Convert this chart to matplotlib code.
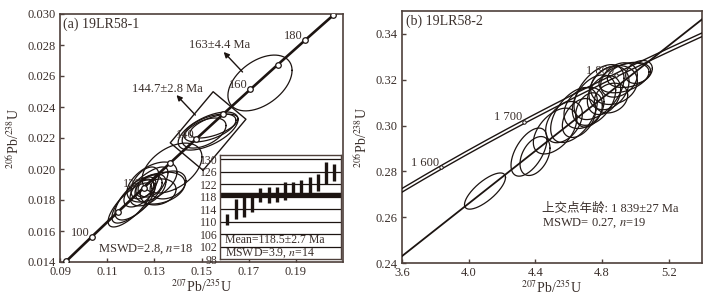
import numpy as np
import matplotlib
matplotlib.use("Agg")
import matplotlib.pyplot as plt

plt.rcParams['font.family'] = ['Liberation Serif', 'Noto Sans CJK SC']
plt.rcParams['mathtext.fontset'] = 'stix'

# ---------------- data ----------------
L235 = 9.8485e-10
L238 = 1.55125e-10

# panel (a): ellipses  x=207/235, y=206/238, half-extents, rho
a_x   = [0.1239, 0.1375, 0.1324, 0.1273, 0.1239, 0.1282, 0.1260, 0.1218, 0.1316, 0.1358, 0.1197, 0.1290, 0.1260,
         0.1528, 0.1536, 0.1511, 0.1553, 0.1748]
a_y   = [0.01832, 0.02006, 0.01877, 0.01865, 0.01852, 0.01890, 0.01910, 0.01800, 0.01852, 0.01897, 0.01768, 0.01916, 0.01877,
         0.02245, 0.02265, 0.02232, 0.02277, 0.02555]
a_dx  = [0.0119, 0.0127, 0.0106, 0.0076, 0.0068, 0.0051, 0.0059, 0.0085, 0.0076, 0.0076, 0.0093, 0.0106, 0.0038,
         0.0127, 0.0110, 0.0093, 0.0102, 0.0136]
a_dy  = [0.00181, 0.00161, 0.00103, 0.00103, 0.00097, 0.00071, 0.00103, 0.00129, 0.00084, 0.00090, 0.00142, 0.00129, 0.00058,
         0.00123, 0.00090, 0.00097, 0.00077, 0.00180]
a_rho = [0.8, 0.45, 0.3, 0.5, 0.55, 0.3, 0.5, 0.65, 0.2, 0.3, 0.75, 0.5, 0.3,
         0.6, 0.55, 0.5, 0.6, 0.45]
a_box_group = [13, 14, 15, 16]          # ellipses enclosed by the 144.7 Ma box
a_marker_ages = [90, 100, 110, 120, 130, 140, 150, 160, 170, 180, 190]
a_label_ages = [100, 120, 140, 160, 180]

# inset weighted mean
w_vals = [110.6, 114.1, 115.0, 116.0, 118.4, 118.5, 118.7, 119.8, 120.6, 121.2, 121.6, 122.6, 125.4, 125.6]
w_errs = [1.7, 3.2, 3.7, 2.8, 2.2, 2.5, 2.5, 2.8, 2.2, 2.2, 2.6, 2.7, 3.5, 2.7]
w_mean = 118.5

# panel (b)
b_x   = [4.098, 4.362, 4.398, 4.518, 4.572, 4.632, 4.692, 4.752, 4.782, 4.812, 4.842, 4.872, 4.902, 4.932, 4.962,
         4.722, 4.854, 4.662, 5.022]
b_y   = [0.2714, 0.2884, 0.2867, 0.2976, 0.3015, 0.3046, 0.3077, 0.3111, 0.3146, 0.3133, 0.3164, 0.3177, 0.3199, 0.3208,
         0.3221, 0.3068, 0.3120, 0.3033, 0.3234]
b_dx  = [0.123, 0.108, 0.090, 0.130, 0.110, 0.140, 0.120, 0.130, 0.150, 0.100, 0.120, 0.140, 0.110, 0.150, 0.130,
         0.080, 0.100, 0.100, 0.080]
b_dy  = [0.0079, 0.0105, 0.0085, 0.0100, 0.0090, 0.0120, 0.0090, 0.0110, 0.0120, 0.0085, 0.0095, 0.0085, 0.0075, 0.0065,
         0.0055, 0.0075, 0.0065, 0.0085, 0.0050]
b_rho = [0.75, 0.55, 0.4, 0.5, 0.4, 0.5, 0.3, 0.4, 0.5, 0.3, 0.3, 0.2, 0.3, 0.4, 0.3, 0.3, 0.2, 0.4, 0.3]
b_label_ages = [1600, 1700, 1800]
b_upper_age = 1839
b_disc_x0, b_disc_y0 = 3.6, 0.243     # lower end of discordia

INK = '#1c1411'
FRAME = '#4e403b'
TXT = '#3a2f2b'


def conc(t_ma):
    t = np.asarray(t_ma) * 1e6
    return np.exp(L235 * t) - 1, np.exp(L238 * t) - 1


def ellipse(x, y, dx, dy, r, n=200):
    th = np.linspace(0, 2 * np.pi, n)
    return x + dx * np.cos(th), y + dy * (r * np.cos(th) + np.sqrt(1 - r * r) * np.sin(th))


def style(ax):
    for s in ax.spines.values():
        s.set_color(FRAME)
        s.set_linewidth(1.2)
    ax.tick_params(direction='in', length=3, width=1, color=FRAME, labelsize=9, colors=TXT,
                   top=False, right=False, pad=3)


fig = plt.figure(figsize=(7.12, 2.97), dpi=100)

# ---------------- panel (a) ----------------
ax = fig.add_axes([60 / 712, 1 - 262 / 297, (343 - 60) / 712, (262 - 14) / 297])
ax.set_xlim(0.09, 0.21)
ax.set_ylim(0.014, 0.030)
style(ax)
ax.set_xticks([0.09, 0.11, 0.13, 0.15, 0.17, 0.19])
ax.set_xticklabels(['0.09', '0.11', '0.13', '0.15', '0.17', '0.19'])
ax.set_yticks(np.arange(0.014, 0.0301, 0.002))
ax.set_yticklabels([f'{v:.3f}' for v in np.arange(0.014, 0.0301, 0.002)])

tt = np.linspace(85, 195, 400)
cx, cy = conc(tt)
ax.plot(cx, cy, color=INK, lw=1.9, zorder=3)
for i in range(len(a_x)):
    ex, ey = ellipse(a_x[i], a_y[i], a_dx[i], a_dy[i], a_rho[i])
    ax.plot(ex, ey, color=INK, lw=0.9, zorder=2)
mx, my = conc(a_marker_ages)
ax.plot(mx, my, 'o', ms=4, mfc='white', mec=INK, mew=0.9, zorder=4)
for age in a_label_ages:
    lx, ly = conc(age)
    ax.annotate(str(age), (lx, ly), xytext=(-1.5, 3), textcoords='offset points',
                ha='right', va='center', fontsize=9, color=TXT, zorder=5)

# rotated box around the 144.7 Ma group (computed in display space)
fig.canvas.draw()
pts = []
for i in a_box_group:
    ex, ey = ellipse(a_x[i], a_y[i], a_dx[i], a_dy[i], a_rho[i])
    pts.append(ax.transData.transform(np.column_stack([ex, ey])))
pts = np.vstack(pts)
ang = np.deg2rad(50)
u = np.array([np.cos(ang), np.sin(ang)])
v = np.array([-np.sin(ang), np.cos(ang)])
pu, pv = pts @ u, pts @ v
pad = 3
u0, u1 = pu.min() - pad, pu.max() + pad
v0, v1 = pv.min() - pad, pv.max() + pad
corners = np.array([u0 * u + v0 * v, u1 * u + v0 * v, u1 * u + v1 * v, u0 * u + v1 * v, u0 * u + v0 * v])
cd = ax.transData.inverted().transform(corners)
ax.plot(cd[:, 0], cd[:, 1], color=INK, lw=1.0, zorder=3)

ax.annotate('', xy=(0.1394, 0.02477), xytext=(0.1474, 0.02348),
            arrowprops=dict(arrowstyle='-|>', color=INK, lw=1.0, mutation_scale=8, shrinkA=0, shrinkB=0))
ax.text(0.1355, 0.02516, '144.7±2.8 Ma', ha='center', va='center', fontsize=9, color=TXT)
ax.annotate('', xy=(0.1594, 0.02755), xytext=(0.1674, 0.02626),
            arrowprops=dict(arrowstyle='-|>', color=INK, lw=1.0, mutation_scale=8, shrinkA=0, shrinkB=0))
ax.text(0.1577, 0.0280, '163±4.4 Ma', ha='center', va='center', fontsize=9, color=TXT)

ax.text(0.012, 0.985, '(a) 19LR58-1', transform=ax.transAxes, ha='left', va='top', fontsize=10, color=TXT)
ax.text(0.1062, 0.0148, 'MSWD=2.8, $n$=18', ha='left', va='center', fontsize=9, color=TXT)
ax.set_xlabel(r'$^{207}$Pb/$^{235}$U', fontsize=10, color=TXT, labelpad=0)
ax.set_ylabel(r'$^{206}$Pb/$^{238}$U', fontsize=10, color=TXT, labelpad=4)

# ---------------- inset ----------------
ins = fig.add_axes([220 / 712, 1 - 259 / 297, (341 - 220) / 712, (259 - 155) / 297])
ins.set_xlim(0.1, 14.8)
ins.set_ylim(98, 131.3)
for s in ins.spines.values():
    s.set_color(FRAME)
    s.set_linewidth(1.0)
for g in np.arange(102, 131, 4):
    ins.axhline(g, color=INK, lw=0.9, zorder=1)
ins.axhline(w_mean, color=INK, lw=3.2, zorder=2)
xs = np.arange(1, len(w_vals) + 1)
for xi, vv, ee in zip(xs, w_vals, w_errs):
    ins.plot([xi, xi], [vv - ee, vv + ee], color=INK, lw=2.4, solid_capstyle='butt', zorder=3)
ins.set_xticks([])
ins.set_yticks(np.arange(98, 131, 4))
ins.set_yticklabels([str(v) for v in range(98, 131, 4)])
ins.tick_params(axis='y', direction='in', length=0, pad=2, labelsize=8.5, colors=TXT)
ins.text(0.04, 104, 'Mean=118.5±2.7 Ma', transform=ins.get_yaxis_transform(), ha='left', va='center',
         fontsize=8.5, color=TXT)
ins.text(0.04, 100, 'MSWD=3.9, $n$=14', transform=ins.get_yaxis_transform(), ha='left', va='center',
         fontsize=8.5, color=TXT)

# ---------------- panel (b) ----------------
bx = fig.add_axes([402 / 712, 1 - 263 / 297, (702 - 402) / 712, (263 - 11) / 297])
bx.set_xlim(3.6, 5.4)
bx.set_ylim(0.24, 0.35)
style(bx)
bx.set_xticks([3.6, 4.0, 4.4, 4.8, 5.2])
bx.set_xticklabels(['3.6', '4.0', '4.4', '4.8', '5.2'])
bx.set_yticks([0.24, 0.26, 0.28, 0.30, 0.32, 0.34])
bx.set_yticklabels(['0.24', '0.26', '0.28', '0.30', '0.32', '0.34'])

tb = np.linspace(1500, 1950, 400)
bcx, bcy = conc(tb)
bx.plot(bcx, bcy + 0.0008, color=INK, lw=1.0, zorder=3)
bx.plot(bcx, bcy - 0.0008, color=INK, lw=1.0, zorder=3)
ux, uy = conc(b_upper_age)
slope = (uy - b_disc_y0) / (ux - b_disc_x0)
dxl = np.array([3.6, 5.4])
bx.plot(dxl, b_disc_y0 + slope * (dxl - b_disc_x0), color=INK, lw=1.3, zorder=3)
for i in range(len(b_x)):
    ex, ey = ellipse(b_x[i], b_y[i], b_dx[i], b_dy[i], b_rho[i])
    bx.plot(ex, ey, color=INK, lw=0.9, zorder=2)
for age in b_label_ages:
    lx, ly = conc(age)
    bx.plot([lx], [ly], 'o', ms=2.5, mfc='white', mec=INK, mew=0.7, zorder=4)
    s = f'{age // 1000} {age % 1000:03d}'
    bx.annotate(s, (lx, ly), xytext=(-1.5, 3), textcoords='offset points',
                ha='right', va='center', fontsize=9, color=TXT, zorder=5)

bx.text(0.012, 0.985, '(b) 19LR58-2', transform=bx.transAxes, ha='left', va='top', fontsize=10, color=TXT)
bx.text(4.442, 0.2639, '上交点年龄: 1 839±27 Ma', ha='left', va='center', fontsize=9, color=TXT)
bx.text(4.442, 0.2574, 'MSWD= 0.27, $n$=19', ha='left', va='center', fontsize=9, color=TXT)
bx.set_xlabel(r'$^{207}$Pb/$^{235}$U', fontsize=10, color=TXT, labelpad=0)
bx.set_ylabel(r'$^{206}$Pb/$^{238}$U', fontsize=10, color=TXT, labelpad=4)

fig.savefig('out.png', dpi=100)
